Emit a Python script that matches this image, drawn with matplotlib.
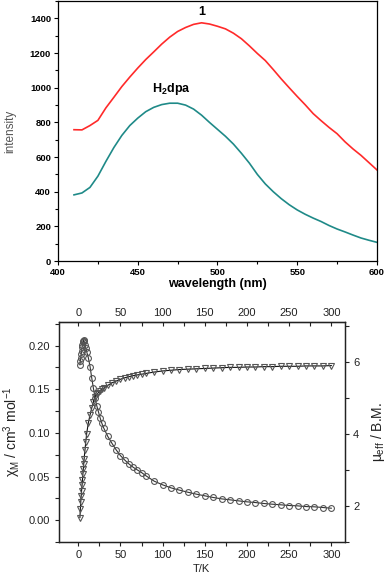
import numpy as np
import matplotlib
matplotlib.use("Agg")
import matplotlib.pyplot as plt
from matplotlib.ticker import MultipleLocator

plt.rcParams['font.family'] = ['Liberation Sans', 'DejaVu Sans']
plt.rcParams['mathtext.fontset'] = 'custom'
plt.rcParams['mathtext.rm'] = 'Liberation Sans'
plt.rcParams['mathtext.it'] = 'Liberation Sans'
plt.rcParams['mathtext.bf'] = 'Liberation Sans:bold'

# emission spectra
wl = [410, 415, 420, 425, 430, 435, 440, 445, 450, 455, 460, 465, 470, 475, 480,
      485, 490, 495, 500, 505, 510, 515, 520, 525, 530, 535, 540, 545, 550, 555,
      560, 565, 570, 575, 580, 585, 590, 595, 600]
int_1 = [758, 757, 782, 812, 884, 945, 1007, 1062, 1114, 1163, 1207, 1252, 1292,
         1325, 1348, 1366, 1375, 1368, 1355, 1340, 1315, 1283, 1242, 1198, 1157,
         1105, 1051, 1000, 950, 902, 851, 810, 771, 735, 688, 647, 610, 568, 526]
int_h2dpa = [382, 393, 425, 490, 575, 655, 725, 782, 825, 862, 887, 903, 911, 911,
             900, 877, 842, 800, 760, 720, 675, 622, 565, 500, 445, 400, 360, 325,
             295, 270, 248, 228, 205, 185, 168, 150, 133, 120, 108]

# magnetic data
T = [2, 2.5, 3, 3.5, 4, 4.5, 5, 5.5, 6, 6.5, 7, 8, 9, 10, 12, 14, 16, 18, 20,
     22, 24, 26, 28, 30, 35, 40, 45, 50, 55, 60, 65, 70, 75, 80, 90, 100, 110,
     120, 130, 140, 150, 160, 170, 180, 190, 200, 210, 220, 230, 240, 250, 260,
     270, 280, 290, 300]
chi = [0.178, 0.182, 0.186, 0.190, 0.194, 0.198, 0.201, 0.204, 0.2055, 0.206, 0.205,
       0.201, 0.197, 0.193, 0.186, 0.176, 0.163, 0.151, 0.140, 0.131, 0.124, 0.117,
       0.111, 0.106, 0.096, 0.088, 0.0805, 0.074, 0.069, 0.0645, 0.0607, 0.0576,
       0.0546, 0.051, 0.0447, 0.0405, 0.037, 0.0344, 0.032, 0.0298, 0.0279, 0.026,
       0.0244, 0.0233, 0.0221, 0.021, 0.0202, 0.0191, 0.0183, 0.0176, 0.0168,
       0.0164, 0.0156, 0.0153, 0.0145, 0.0137]
mu = [1.67, 1.9, 2.1, 2.27, 2.42, 2.56, 2.71, 2.87, 3.02, 3.15, 3.3, 3.55, 3.78,
      4.0, 4.3, 4.52, 4.71, 4.88, 5.03, 5.09, 5.14, 5.19, 5.23, 5.26, 5.34, 5.41,
      5.46, 5.51, 5.55, 5.58, 5.61, 5.63, 5.65, 5.67, 5.71, 5.74, 5.76, 5.78,
      5.79, 5.80, 5.81, 5.82, 5.83, 5.84, 5.84, 5.85, 5.85, 5.86, 5.86, 5.87,
      5.87, 5.87, 5.88, 5.88, 5.88, 5.89]

fig = plt.figure(figsize=(3.87, 5.75), dpi=100)

# ---- top panel
ax1 = fig.add_axes([0.150, 0.546, 0.824, 0.452])
ax1.plot(wl, int_1, color='#ff2a2a', lw=1.2)
ax1.plot(wl, int_h2dpa, color='#1f8a88', lw=1.2)
ax1.set_xlim(400, 600)
ax1.set_ylim(0, 1500)
ax1.set_xticks([400, 450, 500, 550, 600])
ax1.xaxis.set_minor_locator(MultipleLocator(25))
ax1.yaxis.set_major_locator(MultipleLocator(200))
ax1.yaxis.set_minor_locator(MultipleLocator(100))
ax1.tick_params(which='both', direction='out', top=False, right=False,
                labelsize=6.8, width=0.8, length=3, pad=2)
ax1.tick_params(which='minor', length=2)
for lab in ax1.get_xticklabels() + ax1.get_yticklabels():
    lab.set_fontweight('bold')
for s in ax1.spines.values():
    s.set_linewidth(0.9)
ax1.text(490, 1400, '1', fontsize=9, fontweight='bold', ha='center', va='bottom')
ax1.text(471, 945, r'H$_\mathbf{2}$dpa', fontsize=9, fontweight='bold', ha='center', va='bottom')
ax1.set_xlabel('wavelength (nm)', fontsize=9, fontweight='bold', labelpad=1)
ax1.set_ylabel('intensity', fontsize=8.5, color='#555555', labelpad=10)

# ---- bottom panel
gc = '#555555'
ax2 = fig.add_axes([0.152, 0.0574, 0.739, 0.3826])
ax2.plot(T, chi, '-', color='#333333', lw=0.8, marker='o', ms=4.2,
         mfc='none', mec=gc, mew=0.8)
ax2.set_xlim(-23, 316)
ax2.set_ylim(-0.025, 0.227)
ax2.xaxis.set_major_locator(MultipleLocator(50))
ax2.xaxis.set_minor_locator(MultipleLocator(25))
ax2.yaxis.set_major_locator(MultipleLocator(0.05))
ax2.yaxis.set_minor_locator(MultipleLocator(0.025))
ax2.yaxis.set_major_formatter(matplotlib.ticker.FormatStrFormatter('%.2f'))
ax2.tick_params(which='both', direction='out', labelsize=8, colors='#222222',
                width=0.8, length=3, pad=3)
ax2.tick_params(which='minor', length=3)

ax3 = ax2.twinx()
ax3.plot(T, mu, '-', color='#111111', lw=0.8, marker='v', ms=5,
         mfc='none', mec=gc, mew=0.8)
ax3.set_ylim(0.99, 7.1)
ax3.yaxis.set_major_locator(MultipleLocator(2))
ax3.yaxis.set_minor_locator(MultipleLocator(1))
ax3.tick_params(which='both', direction='out', labelsize=8, colors='#222222',
                width=0.8, length=3, pad=3)

ax4 = ax2.secondary_xaxis('top')
ax4.xaxis.set_major_locator(MultipleLocator(50))
ax4.xaxis.set_minor_locator(MultipleLocator(25))
ax4.tick_params(which='both', direction='in', labelsize=8, colors='#222222',
                width=0.8, length=3, pad=3)

for a in (ax2, ax3):
    for s in a.spines.values():
        s.set_linewidth(0.9)
        s.set_color('#222222')

ax2.set_xlabel('T/K', fontsize=8, color='#222222', labelpad=3)
ax2.set_ylabel(r'$\chi_{\rm M}$ / cm$^3$ mol$^{-1}$', fontsize=10, color='#222222', labelpad=4)
ax3.set_ylabel(r'$\mu_{\rm eff}$ / B.M.', fontsize=10, color='#222222', labelpad=7)

fig.savefig('out.png', dpi=100)
